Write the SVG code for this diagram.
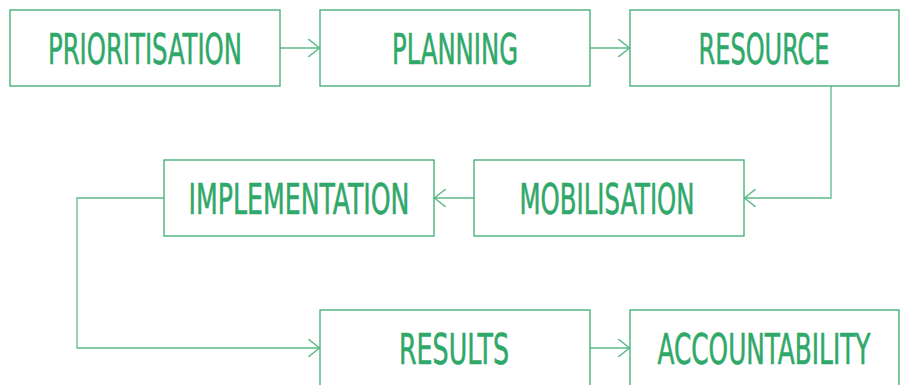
<svg xmlns="http://www.w3.org/2000/svg" width="904" height="385" viewBox="0 0 904 385">
<style>
.box{fill:#fff;stroke:#3aad70;stroke-width:1.3}
.lbl{font-family:"DejaVu Sans Condensed","Liberation Sans Narrow","Liberation Sans",sans-serif;font-size:42px;fill:#2fa869;stroke:#2fa869;stroke-width:0.6;text-anchor:middle}
.conn{fill:none;stroke:#5cbb88;stroke-width:1.3}
</style>
<defs>
<marker id="arr" markerUnits="userSpaceOnUse" markerWidth="12" markerHeight="18" viewBox="0 0 10 16" refX="10" refY="8" orient="auto">
<path d="M0,0 L10,8 L0,16" fill="none" stroke="#5cbb88" stroke-width="1.3"/>
</marker>
</defs>
<rect width="904" height="385" fill="#fff"/>
<g id="connectors">
<path class="conn" d="M280,48 H319.5" marker-end="url(#arr)"/>
<path class="conn" d="M590,48 H629.5" marker-end="url(#arr)"/>
<path class="conn" d="M831,86 V198 H744.5" marker-end="url(#arr)"/>
<path class="conn" d="M474,198 H434.5" marker-end="url(#arr)"/>
<path class="conn" d="M164,198 H77 V348 H319.5" marker-end="url(#arr)"/>
<path class="conn" d="M590,348 H629.5" marker-end="url(#arr)"/>
</g>
<g id="prioritisation">
<rect class="box" x="10" y="10" width="270" height="76"/>
<text class="lbl" x="145" y="64" textLength="194" lengthAdjust="spacingAndGlyphs">PRIORITISATION</text>
</g>
<g id="planning">
<rect class="box" x="320" y="10" width="270" height="76"/>
<text class="lbl" x="455" y="64" textLength="126" lengthAdjust="spacingAndGlyphs">PLANNING</text>
</g>
<g id="resource">
<rect class="box" x="630" y="10" width="269" height="76"/>
<text class="lbl" x="764" y="64" textLength="131" lengthAdjust="spacingAndGlyphs">RESOURCE</text>
</g>
<g id="mobilisation">
<rect class="box" x="474" y="160" width="270" height="76"/>
<text class="lbl" x="607" y="214" textLength="175" lengthAdjust="spacingAndGlyphs">MOBILISATION</text>
</g>
<g id="implementation">
<rect class="box" x="164" y="160" width="270" height="76"/>
<text class="lbl" x="299" y="214" textLength="221" lengthAdjust="spacingAndGlyphs">IMPLEMENTATION</text>
</g>
<g id="results">
<rect class="box" x="320" y="310" width="270" height="76"/>
<text class="lbl" x="454" y="364" textLength="110" lengthAdjust="spacingAndGlyphs">RESULTS</text>
</g>
<g id="accountability">
<rect class="box" x="630" y="310" width="269" height="76"/>
<text class="lbl" x="764" y="364" textLength="213" lengthAdjust="spacingAndGlyphs">ACCOUNTABILITY</text>
</g>
</svg>
